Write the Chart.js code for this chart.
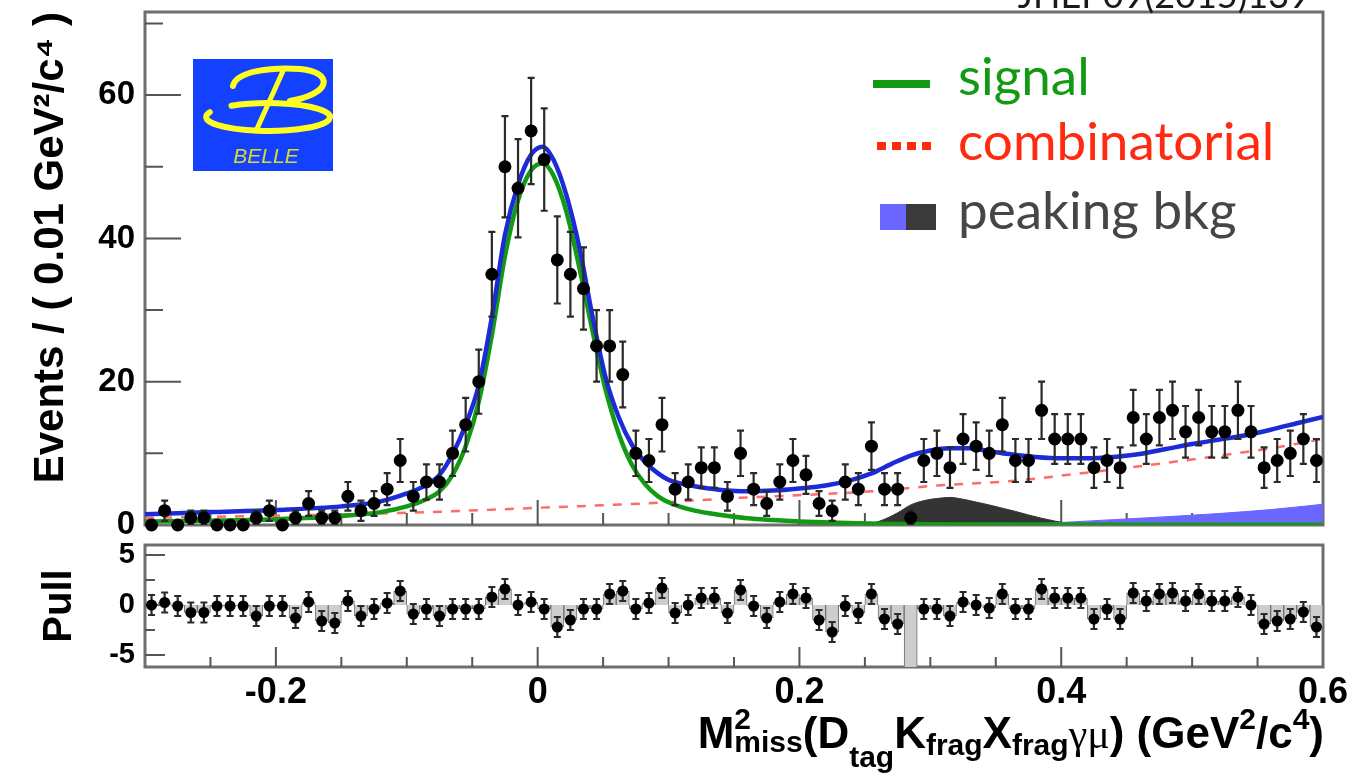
<!DOCTYPE html>
<html>
<head>
<meta charset="utf-8">
<script src="https://cdn.jsdelivr.net/npm/chart.js@4.4.1/dist/chart.umd.min.js"></script>
<style>
  html, body { margin: 0; padding: 0; background: #fff; }
  #wrap { position: relative; width: 1372px; height: 776px; overflow: hidden; background: #fff; }
  #main { position: absolute; left: 0; top: 0; }
  #pull { position: absolute; left: 0; top: 535px; }
</style>
</head>
<body>
<div id="wrap">
  <canvas id="main" width="1372" height="550"></canvas>
  <canvas id="pull" width="1372" height="241"></canvas>
</div>
<script>
// binning: 90 bins of 0.01 from -0.3 to 0.6
const BIN_LOW = -0.3;
const BIN_WIDTH = 0.01;

// events per bin
const counts = [
  0, 2, 0, 1, 1, 0, 0, 0, 1, 2, 0, 1, 3, 1, 1, 4,
  2, 3, 5, 9, 4, 6, 6, 10, 14, 20, 35, 50, 47, 55, 51,
  37, 35, 33, 25, 25, 21, 10, 9, 14, 5, 6, 8, 8, 4, 10,
  5, 3, 6, 9, 7, 3, 2, 6, 5, 11, 5, 5, 1, 9, 10, 8,
  12, 11, 10, 14, 9, 9, 16, 12, 12, 12, 8, 9, 8, 15, 12,
  15, 16, 13, 15, 13, 13, 16, 13, 8, 9, 10, 12, 9
];

// pull per bin
const pulls = [
  0, 0.25, -0.1, -0.75, -0.75, -0.1, -0.1, -0.1, -1.1, -0.1, -0.1, -1.3, 0.3, -1.6, -1.8,
  0.4, -1.1, -0.4, 0.2, 1.4, -0.9, -0.4, -1.1, -0.4, -0.4, -0.4, 0.8, 1.6, 0, 0.3,
  -0.4, -2.2, -1.5, -0.4, -0.4, 1.1, 1.4, -0.4, 0.2, 1.7, -0.8, 0, 0.7, 0.7, -0.8,
  1.5, -0.1, -1.3, 0.3, 1.1, 0.7, -1.5, -2.7, -0.1, -0.8, 1.1, -1.4, -1.9, -9, -0.4,
  -0.4, -1.1, 0.3, 0, -0.3, 1.1, -0.4, -0.4, 1.6, 0.7, 0.7, 0.7, -1.4, -0.4, -1.4,
  1.2, 0.4, 1.1, 1.2, 0.4, 1.1, 0.4, 0.4, 0.8, 0, -1.9, -1.6, -1.4, -0.7, -2.2
];

// fit curves
const totalX = [-0.3, -0.25, -0.2, -0.15, -0.12, -0.1, -0.085, -0.075, -0.065, -0.055, -0.045, -0.035, -0.025, -0.015, -0.005, 0.004, 0.012, 0.022, 0.032, 0.042, 0.052, 0.062, 0.072, 0.082, 0.092, 0.1, 0.12, 0.14, 0.16, 0.18, 0.2, 0.22, 0.24, 0.255, 0.27, 0.285, 0.3, 0.315, 0.33, 0.345, 0.36, 0.38, 0.4, 0.42, 0.44, 0.46, 0.48, 0.5, 0.52, 0.54, 0.56, 0.58, 0.6];
const totalY = [1.5, 1.8, 2.1, 2.6, 3.3, 4.4, 5.6, 7.0, 9.9, 14, 19.5, 29, 40.5, 47.5, 51.7, 52.8, 51, 46, 38.6, 29, 20.5, 15, 11.2, 8.8, 7.2, 6.3, 5.4, 4.9, 4.7, 4.8, 5.1, 5.5, 6.3, 7.2, 8.5, 9.7, 10.4, 10.7, 10.7, 10.3, 9.9, 9.5, 9.3, 9.3, 9.5, 9.9, 10.6, 11.3, 11.9, 12.5, 13.3, 14.2, 15.1];

const signalX = [-0.3, -0.25, -0.2, -0.15, -0.12, -0.1, -0.085, -0.075, -0.065, -0.055, -0.045, -0.035, -0.025, -0.015, -0.005, 0.004, 0.012, 0.022, 0.032, 0.042, 0.052, 0.062, 0.072, 0.082, 0.092, 0.102, 0.12, 0.14, 0.16, 0.18, 0.2, 0.23, 0.26, 0.3, 0.4, 0.6];
const signalY = [0.5, 0.6, 0.8, 1.25, 1.8, 2.6, 3.6, 4.7, 7.0, 11.0, 17.2, 26.5, 37.5, 45.3, 49.5, 50.5, 48.8, 43.7, 35.8, 27, 18.8, 12.7, 8.4, 5.7, 4.0, 3.0, 2.0, 1.4, 0.95, 0.7, 0.5, 0.3, 0.18, 0.1, 0.05, 0.02];

const combX = [-0.3, -0.2, -0.1, 0, 0.08, 0.155, 0.205, 0.255, 0.305, 0.36, 0.41, 0.46, 0.51, 0.56, 0.6];
const combY = [1.0, 1.3, 1.7, 2.4, 3.0, 3.8, 4.2, 4.7, 5.5, 6.1, 7.1, 8.2, 9.4, 10.7, 12.0];

const peakDarkX = [0.245, 0.255, 0.265, 0.275, 0.285, 0.295, 0.305, 0.315, 0.325, 0.335, 0.345, 0.355, 0.365, 0.375, 0.385, 0.395, 0.405, 0.415, 0.425];
const peakDarkY = [0, 0.2, 0.8, 1.7, 2.8, 3.4, 3.7, 3.85, 3.6, 3.2, 2.8, 2.35, 1.9, 1.4, 0.95, 0.55, 0.25, 0.05, 0];

const peakBlueX = [0.36, 0.4, 0.44, 0.48, 0.52, 0.56, 0.6];
const peakBlueY = [0, 0.35, 0.75, 1.15, 1.6, 2.15, 2.9];

// axis labels
const xTickValues = [-0.2, 0, 0.2, 0.4, 0.6];
const xMinorTicks = [-0.25, -0.15, -0.1, -0.05, 0.05, 0.1, 0.15, 0.25, 0.3, 0.35, 0.45, 0.5, 0.55];
const yTickValues = [0, 20, 40, 60];
const yMinorTicks = [10, 30, 50, 70];
const pullTickValues = [-5, 0, 5];
const pullMinorTicks = [-2.5, 2.5];

const legendItems = [
  { label: 'signal', color: '#129a12' },
  { label: 'combinatorial', color: '#ff2a10' },
  { label: 'peaking bkg', color: '#464646' }
];

const binCenters = counts.map((_, i) => +(BIN_LOW + BIN_WIDTH * (i + 0.5)).toFixed(3));
const zip = (xs, ys) => xs.map((x, i) => ({ x: x, y: ys[i] }));

const BOLD = '"Liberation Sans", Arial, sans-serif';

// ROOT style frame with inward ticks
const rootFrame = {
  id: 'rootFrame',
  beforeDatasetsDraw(chart, args, o) {
    const { ctx, chartArea: a } = chart;
    const xs = chart.scales.x, ys = chart.scales.y;
    ctx.save();
    ctx.strokeStyle = '#6e6e6e';
    ctx.lineWidth = 3;
    ctx.strokeRect(a.left, a.top, a.right - a.left, a.bottom - a.top);
    ctx.strokeStyle = '#555';
    ctx.lineWidth = 2;
    ctx.beginPath();
    const xt = (vals, len) => vals.forEach(v => {
      const p = xs.getPixelForValue(v);
      ctx.moveTo(p, a.bottom); ctx.lineTo(p, a.bottom - len);
    });
    const yt = (vals, len) => vals.forEach(v => {
      const p = ys.getPixelForValue(v);
      ctx.moveTo(a.left, p); ctx.lineTo(a.left + len, p);
    });
    xt(o.xMajor, o.xMajorLen); xt(o.xMinor, o.xMinorLen);
    yt(o.yMajor, o.yMajorLen); yt(o.yMinor, o.yMinorLen);
    ctx.stroke();
    ctx.restore();
  }
};

// vertical error bars under the points
const errorBars = {
  id: 'errorBars',
  beforeDatasetDraw(chart, args) {
    const ds = chart.data.datasets[args.index];
    if (!ds.errors) return;
    const { ctx, chartArea: a } = chart;
    const xs = chart.scales.x, ys = chart.scales.y;
    ctx.save();
    ctx.beginPath();
    ctx.rect(a.left - 10, a.top, a.right - a.left + 20, a.bottom - a.top);
    ctx.clip();
    ctx.strokeStyle = '#2a2a2a';
    ctx.lineWidth = 2.2;
    ctx.beginPath();
    ds.data.forEach((p, i) => {
      const e = ds.errors[i];
      if (!e) return;
      const px = xs.getPixelForValue(p.x);
      const y1 = ys.getPixelForValue(p.y - e), y2 = ys.getPixelForValue(p.y + e);
      ctx.moveTo(px, y1); ctx.lineTo(px, y2);
      ctx.moveTo(px - 3.5, y1); ctx.lineTo(px + 3.5, y1);
      ctx.moveTo(px - 3.5, y2); ctx.lineTo(px + 3.5, y2);
    });
    ctx.stroke();
    ctx.restore();
  }
};

// legend, Belle logo, journal reference
const decorations = {
  id: 'decorations',
  afterDraw(chart) {
    const ctx = chart.ctx;
    ctx.save();
    // journal reference, mostly cut off at the top
    ctx.font = '36px Lato, sans-serif';
    ctx.fillStyle = '#1a1a1a';
    ctx.textAlign = 'right';
    ctx.textBaseline = 'alphabetic';
    ctx.fillText('JHEP09(2015)139', 1310, 8);

    // Belle logo
    ctx.fillStyle = '#1440ff';
    ctx.fillRect(193, 59, 140, 112);
    ctx.strokeStyle = '#ffff1e';
    ctx.lineCap = 'round';
    ctx.lineWidth = 6;
    ctx.beginPath();
    ctx.ellipse(268, 117, 62, 14, 0, -2.2, Math.PI + 0.35);
    ctx.stroke();
    ctx.beginPath();
    ctx.moveTo(233, 86);
    ctx.bezierCurveTo(236, 71, 272, 67, 300, 69);
    ctx.bezierCurveTo(334, 72, 332, 94, 290, 101);
    ctx.stroke();
    ctx.lineWidth = 5;
    ctx.beginPath();
    ctx.moveTo(283, 71);
    ctx.lineTo(256, 131);
    ctx.stroke();
    ctx.font = 'italic 21px "Liberation Sans", sans-serif';
    ctx.fillStyle = '#dcdc28';
    ctx.textAlign = 'center';
    ctx.fillText('BELLE', 266, 163);

    // legend
    ctx.fillStyle = legendItems[0].color;
    ctx.fillRect(873, 80, 57, 8);
    ctx.fillStyle = legendItems[1].color;
    [877, 892, 907, 922].forEach(x => ctx.fillRect(x, 142, 9, 8));
    ctx.fillStyle = '#6b66ff';
    ctx.fillRect(880, 204, 26, 26);
    ctx.fillStyle = '#3a3a3a';
    ctx.fillRect(906, 204, 30, 26);
    ctx.font = '53px Lato, sans-serif';
    ctx.textAlign = 'left';
    const baselines = [95, 160, 229];
    legendItems.forEach((it, i) => {
      ctx.fillStyle = it.color;
      ctx.fillText(it.label, 958, baselines[i]);
    });
    ctx.restore();
  }
};

// x axis title with sub/superscripts
const xTitle = {
  id: 'xTitle',
  afterDraw(chart) {
    const ctx = chart.ctx;
    const MAIN = 'bold 44px ' + BOLD, SUB = 'bold 30px ' + BOLD, GREEK = '42px "Liberation Serif", serif';
    const segs = [
      { s: 'M', f: MAIN, dy: 0 },
      { s: '2', f: SUB, dy: -19, stack: true },
      { s: 'miss', f: SUB, dy: 4 },
      { s: '(D', f: MAIN, dy: 0 },
      { s: 'tag', f: SUB, dy: 19 },
      { s: 'K', f: MAIN, dy: 0 },
      { s: 'frag', f: SUB, dy: 7 },
      { s: 'X', f: MAIN, dy: 0 },
      { s: 'frag', f: SUB, dy: 7 },
      { s: 'γμ', f: GREEK, dy: 0 },
      { s: ') (GeV', f: MAIN, dy: 0 },
      { s: '2', f: SUB, dy: -19 },
      { s: '/c', f: MAIN, dy: 0 },
      { s: '4', f: SUB, dy: -19 },
      { s: ')', f: MAIN, dy: 0 }
    ];
    ctx.save();
    ctx.fillStyle = '#000';
    ctx.textBaseline = 'alphabetic';
    ctx.textAlign = 'left';
    const widths = segs.map(g => { ctx.font = g.f; return ctx.measureText(g.s).width; });
    let total = 0;
    for (let i = 0; i < segs.length; i++) {
      if (segs[i].stack) { total += Math.max(widths[i], widths[i + 1]); i++; }
      else total += widths[i];
    }
    let x = chart.chartArea.right + 1 - total;
    const base = 213;
    for (let i = 0; i < segs.length; i++) {
      const g = segs[i];
      ctx.font = g.f;
      ctx.fillText(g.s, x, base + g.dy);
      if (g.stack) {
        const n = segs[i + 1];
        ctx.font = n.f;
        ctx.fillText(n.s, x, base + n.dy);
        x += Math.max(widths[i], widths[i + 1]);
        i++;
      } else {
        x += widths[i];
      }
    }
    ctx.restore();
  }
};

const fixY = w => s => { s.width = w; s.paddingTop = 0; s.paddingBottom = 0; };

new Chart(document.getElementById('main'), {
  type: 'line',
  data: {
    datasets: [
      {
        label: 'data', data: zip(binCenters, counts), errors: counts.map(n => Math.sqrt(n)),
        showLine: false, pointRadius: 6.5, pointBackgroundColor: '#000', pointBorderWidth: 0,
        clip: false, order: 0
      },
      {
        label: 'total', data: zip(totalX, totalY), borderColor: '#1c2bd6', borderWidth: 4.5,
        pointRadius: 0, cubicInterpolationMode: 'monotone', fill: false, order: 1
      },
      {
        label: 'signal', data: zip(signalX, signalY), borderColor: '#139a13', borderWidth: 4.5,
        pointRadius: 0, cubicInterpolationMode: 'monotone', fill: false, order: 2
      },
      {
        label: 'combinatorial', data: zip(combX, combY), borderColor: '#ff6b6b', borderWidth: 2.5,
        borderDash: [9, 9], pointRadius: 0, cubicInterpolationMode: 'monotone', fill: false, order: 3
      },
      {
        label: 'peaking bkg 2', data: zip(peakBlueX, peakBlueY), borderColor: '#6b66ff', borderWidth: 1,
        backgroundColor: '#6b66ff', pointRadius: 0, cubicInterpolationMode: 'monotone', fill: 'origin', order: 4
      },
      {
        label: 'peaking bkg 1', data: zip(peakDarkX, peakDarkY), borderColor: '#333', borderWidth: 1,
        backgroundColor: '#333', pointRadius: 0, cubicInterpolationMode: 'monotone', fill: 'origin', order: 5
      }
    ]
  },
  options: {
    responsive: false,
    animation: false,
    layout: { padding: { top: 12, right: 49, bottom: 25, left: 0 } },
    plugins: {
      legend: { display: false },
      tooltip: { enabled: false },
      rootFrame: {
        xMajor: [-0.2, 0, 0.2, 0.4], xMinor: xMinorTicks, xMajorLen: 25, xMinorLen: 12,
        yMajor: yTickValues.slice(1), yMinor: yMinorTicks, yMajorLen: 36, yMinorLen: 18
      }
    },
    scales: {
      x: { type: 'linear', display: false, min: -0.3, max: 0.6 },
      y: {
        min: 0, max: 71.6,
        afterBuildTicks: s => { s.ticks = yTickValues.map(v => ({ value: v })); },
        afterFit: fixY(145),
        grid: { display: false, drawTicks: false },
        border: { display: false },
        ticks: { color: '#000', padding: 10, font: { family: BOLD, size: 33, weight: 'bold' } },
        title: {
          display: true, text: 'Events / ( 0.01 GeV²/c⁴ )', align: 'end', color: '#000',
          font: { family: BOLD, size: 42, weight: 'bold' }, padding: { top: 26, bottom: 0 }
        }
      }
    }
  },
  plugins: [rootFrame, errorBars, decorations]
});

new Chart(document.getElementById('pull'), {
  type: 'bar',
  data: {
    datasets: [
      {
        type: 'line', label: 'pull', data: zip(binCenters, pulls), errors: pulls.map(() => 1),
        showLine: false, pointRadius: 5.5, pointBackgroundColor: '#000', pointBorderWidth: 0, order: 0
      },
      {
        type: 'bar', label: 'pull hist', data: zip(binCenters, pulls), backgroundColor: '#cdcdcd',
        borderColor: '#707070', borderWidth: 1, barPercentage: 1, categoryPercentage: 1, order: 1
      }
    ]
  },
  options: {
    responsive: false,
    animation: false,
    layout: { padding: { top: 10, right: 49, bottom: 0, left: 0 } },
    plugins: {
      legend: { display: false },
      tooltip: { enabled: false },
      rootFrame: {
        xMajor: [-0.2, 0, 0.2, 0.4], xMinor: xMinorTicks, xMajorLen: 20, xMinorLen: 10,
        yMajor: pullTickValues, yMinor: pullMinorTicks, yMajorLen: 20, yMinorLen: 10
      }
    },
    scales: {
      x: {
        type: 'linear', min: -0.3, max: 0.6, offset: false,
        afterBuildTicks: s => { s.ticks = xTickValues.map(v => ({ value: v })); },
        afterFit: s => { s.height = 109; s.paddingLeft = 0; s.paddingRight = 0; },
        grid: { display: false, drawTicks: false },
        border: { display: false },
        ticks: {
          color: '#000', padding: 4, maxRotation: 0, autoSkip: false,
          font: { family: BOLD, size: 36, weight: 'bold' },
          callback: v => String(+v.toFixed(1))
        }
      },
      y: {
        min: -6.2, max: 6.0,
        afterBuildTicks: s => { s.ticks = pullTickValues.map(v => ({ value: v })); },
        afterFit: fixY(145),
        grid: { display: false, drawTicks: false },
        border: { display: false },
        ticks: { color: '#000', padding: 10, font: { family: BOLD, size: 29, weight: 'bold' } },
        title: {
          display: true, text: 'Pull', align: 'center', color: '#000',
          font: { family: BOLD, size: 40, weight: 'bold' }, padding: { top: 36, bottom: 0 }
        }
      }
    }
  },
  plugins: [rootFrame, errorBars, xTitle]
});
</script>
</body>
</html>
